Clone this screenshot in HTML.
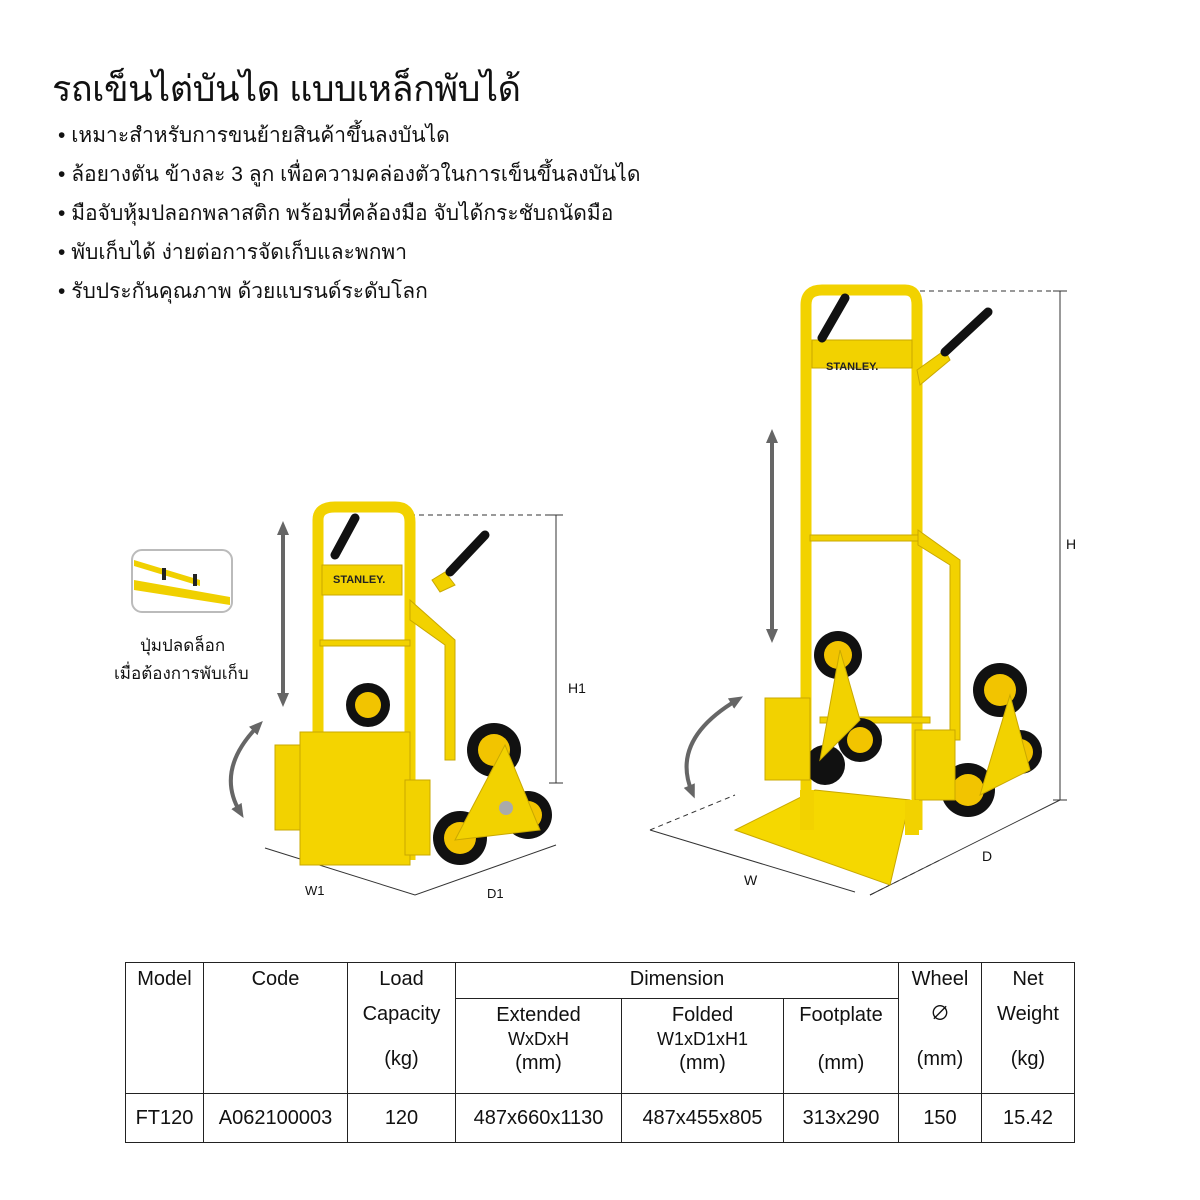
<!DOCTYPE html>
<html><head><meta charset="utf-8"><style>
body{margin:0;background:#fff;width:1200px;height:1200px;position:relative;overflow:hidden;font-family:"Liberation Sans","Noto Sans CJK SC",sans-serif;color:#111}
.t{position:absolute;white-space:nowrap}
h1{position:absolute;left:52px;top:60px;margin:0;font-size:36px;font-weight:normal;letter-spacing:-0.5px}
ul{position:absolute;left:58px;top:116px;margin:0;padding:0;list-style:none;font-size:21px;line-height:39px}
ul li:before{content:"• ";}
table{position:absolute;left:125px;top:962px;border-collapse:collapse;font-size:20px;table-layout:fixed;width:949px}
td{border:1px solid #222;text-align:center;vertical-align:top;padding:4px 0;color:#111;line-height:24px;overflow:hidden}
</style></head><body>
<h1>รถเข็นไต่บันได แบบเหล็กพับได้</h1>
<ul>
<li>เหมาะสำหรับการขนย้ายสินค้าขึ้นลงบันได</li>
<li>ล้อยางตัน ข้างละ 3 ลูก เพื่อความคล่องตัวในการเข็นขึ้นลงบันได</li>
<li>มือจับหุ้มปลอกพลาสติก พร้อมที่คล้องมือ จับได้กระชับถนัดมือ</li>
<li>พับเก็บได้ ง่ายต่อการจัดเก็บและพกพา</li>
<li>รับประกันคุณภาพ ด้วยแบรนด์ระดับโลก</li>
</ul>
<svg width="1200" height="960" style="position:absolute;left:0;top:0">
<defs><marker id="a" markerUnits="userSpaceOnUse" markerWidth="14" markerHeight="14" refX="7" refY="7" orient="auto-start-reverse"><path d="M0,1L14,7L0,13z" fill="#666"/></marker></defs>
<g stroke="#333" stroke-width="1" fill="none">
<path d="M920 291H1060M410 515H556M870 895L940 860M650 830L735 795" stroke-dasharray="5,4"/>
<path d="M1060 291V800M1053 291H1067M1053 800H1067M556 515V783M549 515H563M549 783H563"/>
<path d="M650 830L855 892M870 895L1060 800M265 848L415 895L556 845"/>
</g>
<g stroke="#666" stroke-width="4" fill="none" marker-end="url(#a)" marker-start="url(#a)">
<path d="M283 528V700"/><path d="M772 436V636"/>
<path d="M258 726Q215 770 240 812"/><path d="M737 700Q670 740 692 792"/>
</g>
<rect x="132" y="550" width="100" height="62" rx="10" fill="#fff" stroke="#bbb" stroke-width="2"/>
<path d="M134 580L230 597V605L134 590z M134 560L200 580V586L134 566z" fill="#f0d000"/>
<rect x="162" y="568" width="4" height="12" fill="#222"/><rect x="193" y="574" width="4" height="12" fill="#222"/>
<g fill="#f2d200" stroke="#c9a800" stroke-width="1">
<path d="M318 860V520Q318 507 335 507H395Q410 507 410 522V860" fill="none" stroke="#f2d200" stroke-width="11"/>
<rect x="322" y="565" width="80" height="30"/>
<path d="M410 600L455 640V760L445 760V645L410 620z"/>
<rect x="320" y="640" width="90" height="6"/>
<path d="M432 580L445 572L455 585L440 592z"/>
</g>
<path d="M335 555L355 518M450 572L485 535" stroke="#111" stroke-width="9" stroke-linecap="round"/>
<text x="333" y="583" font-size="11" font-weight="bold" fill="#222">STANLEY.</text>
<g fill="#111"><circle cx="368" cy="705" r="22"/><circle cx="494" cy="750" r="27"/><circle cx="528" cy="815" r="24"/><circle cx="460" cy="838" r="27"/></g>
<g fill="#f2c400"><circle cx="368" cy="705" r="13"/><circle cx="494" cy="750" r="16"/><circle cx="528" cy="815" r="14"/><circle cx="460" cy="838" r="16"/></g>
<path d="M505 745L540 830L455 840z" fill="#f2d200" stroke="#c9a800"/>
<circle cx="506" cy="808" r="7" fill="#aaa"/>
<rect x="275" y="745" width="30" height="85" fill="#f2d200" stroke="#c9a800"/>
<rect x="300" y="732" width="110" height="133" fill="#f4d400" stroke="#c9a800"/>
<rect x="405" y="780" width="25" height="75" fill="#f2d200" stroke="#c9a800"/>
<g fill="#f2d200" stroke="#c9a800" stroke-width="1">
<path d="M806 830V305Q806 290 822 290H905Q917 290 917 305V830" fill="none" stroke="#f2d200" stroke-width="11"/>
<rect x="812" y="340" width="100" height="28"/>
<rect x="810" y="535" width="108" height="6"/>
<path d="M918 530L960 560V740H950V565L918 545z"/>
<path d="M917 370L945 350L950 360L920 385z"/>
<rect x="820" y="717" width="110" height="6"/>
</g>
<path d="M822 338L845 298M945 352L988 312" stroke="#111" stroke-width="9" stroke-linecap="round"/>
<text x="826" y="370" font-size="11" font-weight="bold" fill="#222">STANLEY.</text>
<g fill="#111"><circle cx="838" cy="655" r="24"/><circle cx="860" cy="740" r="22"/><circle cx="825" cy="765" r="20"/><circle cx="1000" cy="690" r="27"/><circle cx="1020" cy="752" r="22"/><circle cx="968" cy="790" r="27"/></g>
<g fill="#f2c400"><circle cx="838" cy="655" r="14"/><circle cx="860" cy="740" r="13"/><circle cx="1000" cy="690" r="16"/><circle cx="1020" cy="752" r="13"/><circle cx="968" cy="790" r="16"/></g>
<path d="M1010 695L1030 770L980 795z" fill="#f2d200" stroke="#c9a800"/>
<path d="M840 650L860 720L820 760z" fill="#f2d200" stroke="#c9a800"/>
<rect x="765" y="698" width="45" height="82" fill="#f2d200" stroke="#c9a800"/>
<rect x="915" y="730" width="40" height="70" fill="#f2d200" stroke="#c9a800"/>
<path d="M815 790L910 800L890 885L735 830z" fill="#f5d800" stroke="#c9a800"/>
<rect x="800" y="790" width="14" height="40" fill="#f2d200"/><rect x="905" y="800" width="14" height="35" fill="#f2d200"/>
</svg>
<div class="t" style="left:140px;top:632px;font-size:17px">ปุ่มปลดล็อก</div>
<div class="t" style="left:114px;top:660px;font-size:17px">เมื่อต้องการพับเก็บ</div>
<div class="t" style="left:568px;top:680px;font-size:14px">H1</div>
<div class="t" style="left:1066px;top:536px;font-size:14px">H</div>
<div class="t" style="left:305px;top:883px;font-size:13px">W1</div>
<div class="t" style="left:487px;top:886px;font-size:13px">D1</div>
<div class="t" style="left:744px;top:872px;font-size:14px">W</div>
<div class="t" style="left:982px;top:848px;font-size:14px">D</div>
<table>
<colgroup><col style="width:78px"><col style="width:144px"><col style="width:108px"><col style="width:166px"><col style="width:162px"><col style="width:115px"><col style="width:83px"><col style="width:93px"></colgroup>
<tr style="height:36px"><td rowspan="2">Model</td><td rowspan="2">Code</td><td rowspan="2">Load<br><span style="line-height:46px">Capacity</span><br><span style="position:relative;top:10px">(kg)</span></td><td colspan="3">Dimension</td><td rowspan="2">Wheel<br><span style="line-height:46px">∅</span><br><span style="position:relative;top:10px">(mm)</span></td><td rowspan="2">Net<br><span style="line-height:46px">Weight</span><br><span style="position:relative;top:10px">(kg)</span></td></tr>
<tr style="height:95px"><td>Extended<br><span style="font-size:18px">WxDxH</span><br>(mm)</td><td>Folded<br><span style="font-size:18px">W1xD1xH1</span><br>(mm)</td><td>Footplate<br><br>(mm)</td></tr>
<tr style="height:49px"><td style="vertical-align:middle">FT120</td><td style="vertical-align:middle">A062100003</td><td style="vertical-align:middle">120</td><td style="vertical-align:middle">487x660x1130</td><td style="vertical-align:middle">487x455x805</td><td style="vertical-align:middle">313x290</td><td style="vertical-align:middle">150</td><td style="vertical-align:middle">15.42</td></tr>
</table>
</body></html>
